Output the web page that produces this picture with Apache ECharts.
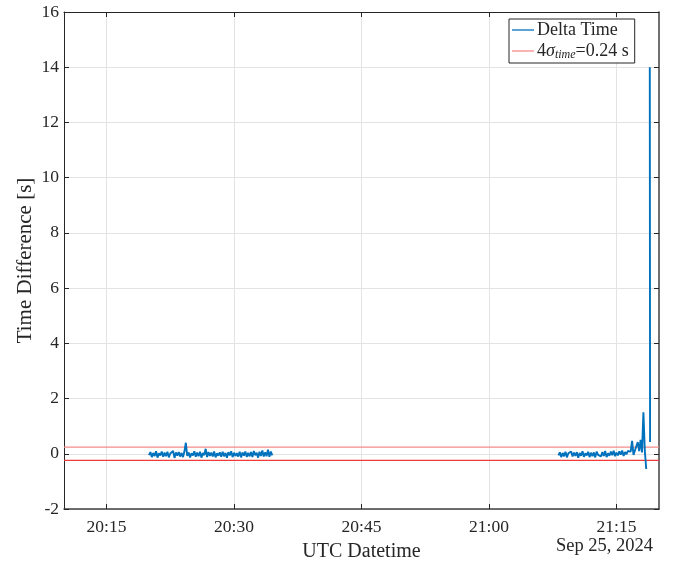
<!DOCTYPE html>
<html>
<head>
<meta charset="utf-8">
<script src="https://cdn.jsdelivr.net/npm/echarts@6/dist/echarts.min.js"></script>
<style>html,body{margin:0;padding:0;background:#fff}#c{width:677px;height:567px}</style>
</head>
<body>
<div id="c"></div>
<script>
// ---- data ----
const xMinTime = Date.UTC(2024, 8, 25, 20, 10, 0);
const xMaxTime = Date.UTC(2024, 8, 25, 21, 20, 0);
const xTickTimes = [
  Date.UTC(2024, 8, 25, 20, 15), Date.UTC(2024, 8, 25, 20, 30),
  Date.UTC(2024, 8, 25, 20, 45), Date.UTC(2024, 8, 25, 21, 0),
  Date.UTC(2024, 8, 25, 21, 15)
];
const yTicks = [-2, 0, 2, 4, 6, 8, 10, 12, 14, 16];
const sampleStepSec = 10;
const seg1Start = Date.UTC(2024, 8, 25, 20, 20, 0);
const seg1Values = [-0.05,0.06,-0.12,0.03,-0.08,0.09,-0.14,0.02,-0.06,0.08,
  -0.11,0.04,-0.09,0.07,-0.13,0.01,-0.04,0.10,-0.15,0.05,
  -0.07,0.06,-0.10,0.03,-0.12,0.08,0.40,-0.08,0.05,-0.13,
  0.02,-0.06,0.09,-0.11,0.04,-0.09,0.07,-0.14,0.03,-0.05,
  0.18,-0.12,0.06,-0.08,0.04,-0.10,0.08,-0.13,0.02,-0.07,
  0.05,-0.11,0.07,-0.09,0.03,-0.14,0.06,-0.06,0.09,-0.12,
  0.04,-0.08,0.02,-0.10,0.07,-0.13,0.05,-0.07,0.08,-0.11,
  0.03,-0.09,0.06,-0.12,0.10,-0.05,0.04,-0.14,0.07,-0.08,
  0.12,-0.10,0.05,-0.09,0.15,-0.11,0.08,-0.06];
const seg2Start = Date.UTC(2024, 8, 25, 21, 8, 10);
const seg2Values = [-0.06,0.05,-0.12,0.03,-0.09,0.07,-0.13,0.02,-0.05,0.08,
  -0.10,0.04,-0.08,0.06,-0.14,0.03,-0.07,0.09,-0.11,0.02,
  -0.06,0.07,-0.12,0.04,-0.09,0.05,-0.13,0.08,-0.04,0.03,
  -0.10,0.06,-0.08,0.10,-0.12,0.02,-0.07,0.08,-0.05,0.11,
  -0.09,0.04,-0.06,0.09,-0.03,0.12,-0.08,0.06,-0.02,0.10,
  0.03,0.08,0.47,-0.04,0.12,0.05,0.42,0.10,0.50,0.05,
  1.50,0.10,-0.55];
const tailTimes = [Date.UTC(2024, 8, 25, 21, 18, 55), Date.UTC(2024, 8, 25, 21, 18, 57)];
const tailValues = [14.0, 0.43];
const sigmaThreshold = 0.24;
const deltaName = 'Delta Time';
const sigmaName = '4σtime=0.24 s';

// ---- build ----
const deltaData = [];
seg1Values.forEach((v, i) => deltaData.push([seg1Start + i * sampleStepSec * 1000, v]));
deltaData.push(null);
seg2Values.forEach((v, i) => deltaData.push([seg2Start + i * sampleStepSec * 1000, v]));
deltaData.push(null);
tailTimes.forEach((t, i) => deltaData.push([t, tailValues[i]]));

const FONT = '"Liberation Serif", "Times New Roman", serif';
const TXT = '#262626';
function fmt(v) {
  const d = new Date(v);
  const p = n => (n < 10 ? '0' : '') + n;
  return p(d.getUTCHours()) + ':' + p(d.getUTCMinutes());
}

const chart = echarts.init(document.getElementById('c'), null, {renderer: 'canvas'});
chart.setOption({
  animation: false,
  backgroundColor: '#fff',
  grid: {left: 64, right: 18, top: 12, bottom: 58, containLabel: false},
  legend: {
    data: [deltaName, sigmaName],
    orient: 'vertical',
    left: 509, top: 19,
    backgroundColor: '#fff',
    borderColor: '#262626', borderWidth: 1, borderRadius: 0,
    padding: [2, 6, 2, 3],
    itemGap: 3,
    icon: 'rect',
    itemWidth: 22, itemHeight: 1.3,
    formatter: function (name) {
      if (name === sigmaName) return '4{it|σ}{sub|time}=0.24 s';
      return name;
    },
    textStyle: {
      fontFamily: FONT, fontSize: 18, color: TXT, padding: [0, 0, 0, -2],
      rich: {
        it: {fontFamily: FONT, fontSize: 18, fontStyle: 'italic', color: TXT},
        sub: {fontFamily: FONT, fontSize: 12, fontStyle: 'italic', color: TXT, padding: [8, 0, 0, 0]}
      }
    }
  },
  xAxis: [{
    type: 'value', min: xMinTime, max: xMaxTime, position: 'bottom',
    name: 'UTC Datetime', nameLocation: 'middle', nameGap: 33, nameMoveOverlap: false,
    nameTextStyle: {fontFamily: FONT, fontSize: 20, color: TXT},
    axisLine: {show: true, onZero: false, lineStyle: {color: '#404040', width: 1.5}},
    axisTick: {show: true, inside: true, length: 5, customValues: xTickTimes, lineStyle: {color: '#262626'}},
    axisLabel: {show: true, customValues: xTickTimes, formatter: fmt, margin: 9,
      fontFamily: FONT, fontSize: 17.5, color: TXT},
    splitLine: {show: true, lineStyle: {color: '#e3e3e3', width: 1}}
  }, {
    type: 'value', min: xMinTime, max: xMaxTime, position: 'top',
    axisLine: {show: true, onZero: false, lineStyle: {color: '#262626', width: 1}},
    axisTick: {show: true, inside: true, length: 5, customValues: xTickTimes, lineStyle: {color: '#262626'}},
    axisLabel: {show: false},
    splitLine: {show: false}
  }],
  yAxis: [{
    type: 'value', min: -2, max: 16, interval: 2, position: 'left',
    name: 'Time Difference [s]', nameLocation: 'middle', nameGap: 28, nameMoveOverlap: false,
    nameTextStyle: {fontFamily: FONT, fontSize: 21, color: TXT},
    axisLine: {show: true, onZero: false, lineStyle: {color: '#262626', width: 1}},
    axisTick: {show: true, inside: true, length: 5, lineStyle: {color: '#262626'}},
    axisLabel: {show: true, margin: 5, fontFamily: FONT, fontSize: 17.5, color: TXT,
      formatter: v => (yTicks.indexOf(v) >= 0 ? String(v) : '')},
    splitLine: {show: true, lineStyle: {color: '#e3e3e3', width: 1}}
  }, {
    type: 'value', min: -2, max: 16, interval: 2, position: 'right',
    axisLine: {show: true, onZero: false, lineStyle: {color: '#404040', width: 1.5}},
    axisTick: {show: true, inside: true, length: 5, lineStyle: {color: '#262626'}},
    axisLabel: {show: false},
    splitLine: {show: false}
  }],
  graphic: [{
    type: 'text', right: 24, top: 537,
    style: {text: 'Sep 25, 2024', font: '18.5px ' + FONT, fill: TXT}
  }],
  series: [{
    name: deltaName, type: 'line', data: deltaData,
    showSymbol: false, symbol: 'none', connectNulls: false,
    lineStyle: {color: '#0072BD', width: 1.9}, itemStyle: {color: '#0072BD'}, z: 3
  }, {
    name: sigmaName, type: 'line',
    data: [[xMinTime, sigmaThreshold], [xMaxTime, sigmaThreshold]],
    symbol: 'none', lineStyle: {color: '#f68a8a', width: 1.3}, itemStyle: {color: '#f68a8a'}, z: 2
  }, {
    name: sigmaName, type: 'line',
    data: [[xMinTime, -sigmaThreshold], [xMaxTime, -sigmaThreshold]],
    symbol: 'none', lineStyle: {color: '#f23a3a', width: 1.3}, itemStyle: {color: '#f23a3a'}, z: 2
  }]
});
</script>
</body>
</html>
